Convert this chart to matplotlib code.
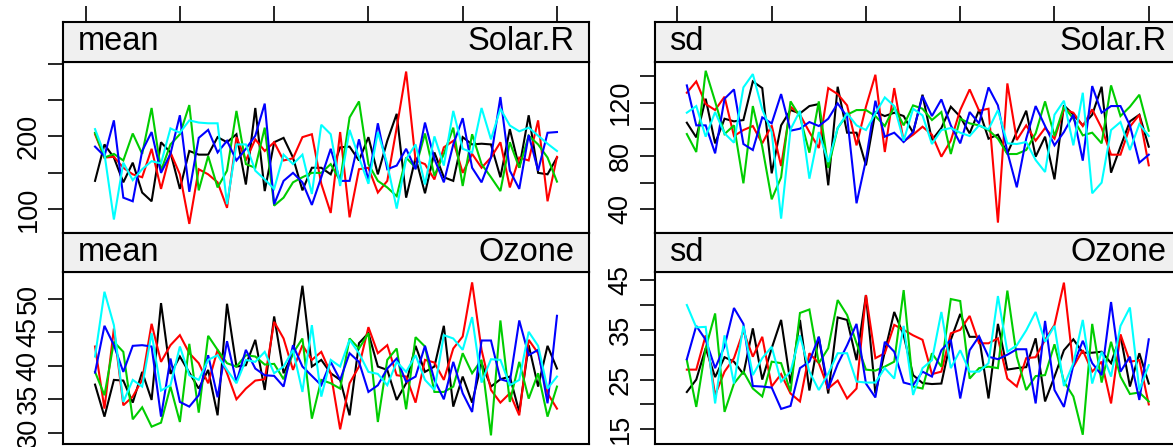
import matplotlib
matplotlib.use('Agg')
import matplotlib.pyplot as plt
import numpy as np

plt.rcParams['font.family'] = ['Liberation Sans', 'DejaVu Sans']

# ---------------- data ----------------
x = np.arange(1, 51)
series_names = ['s1', 's2', 's3', 's4', 's5']
series_colors = ['#000000', '#FF0000', '#00CD00', '#0000FF', '#00FFFF']

mean_solar_black = [139, 189, 171, 137, 164, 123, 111, 192, 178, 128, 180, 175, 175, 199, 192, 203, 134, 239, 125, 192,
                    198, 171, 126, 157, 157, 148, 185, 186, 167, 199, 148, 194, 231, 116, 171, 122, 178, 144, 139, 199,
                    189, 190, 189, 144, 210, 157, 229, 150, 148, 171]
mean_solar_red = [203, 171, 172, 157, 148, 144, 183, 128, 178, 148, 80, 155, 148, 137, 102, 199, 167, 196, 180, 192,
                  167, 170, 199, 203, 135, 95, 206, 89, 155, 157, 123, 139, 212, 289, 167, 162, 141, 185, 194, 150,
                  176, 157, 171, 192, 130, 171, 167, 222, 111, 172]
mean_solar_green = [205, 171, 176, 167, 204, 176, 239, 153, 189, 203, 243, 126, 173, 130, 153, 235, 162, 157, 212, 105,
                    116, 137, 144, 150, 150, 162, 139, 226, 248, 162, 139, 130, 118, 171, 157, 204, 146, 176, 212, 132,
                    203, 162, 144, 125, 192, 157, 201, 189, 171, 138]
mean_solar_blue = [186, 173, 222, 116, 111, 180, 206, 150, 176, 229, 124, 198, 209, 178, 194, 167, 183, 201, 245, 107,
                   139, 150, 137, 106, 144, 183, 139, 139, 196, 139, 218, 155, 160, 183, 155, 219, 169, 137, 189, 225,
                   157, 137, 171, 254, 153, 128, 202, 153, 205, 206]
mean_solar_cyan = [210, 176, 86, 164, 140, 155, 166, 163, 211, 205, 222, 219, 218, 218, 107, 189, 189, 153, 141, 128,
                   175, 162, 175, 121, 216, 203, 132, 209, 171, 135, 206, 162, 101, 169, 189, 134, 200, 160, 235, 183,
                   178, 239, 196, 238, 215, 207, 212, 201, 190, 180]

mean_ozone_black = [37.2, 32.4, 37.9, 37.8, 34.5, 39.1, 34.9, 49.4, 38.8, 41.4, 39.0, 36.6, 39.4, 32.6, 49.3, 39.9, 40.1,
                    43.9, 36.4, 47.4, 38.9, 41.9, 52.0, 39.9, 40.9, 38.9, 37.9, 32.6, 43.4, 44.9, 39.9, 39.4, 34.9, 37.4,
                    43.0, 39.1, 39.9, 46.0, 33.9, 38.4, 34.5, 40.4, 36.9, 38.0, 38.4, 33.1, 43.1, 36.9, 43.0, 39.6]
mean_ozone_red = [42.9, 33.6, 45.6, 34.1, 35.4, 37.9, 46.3, 40.6, 43.1, 44.6, 41.9, 40.4, 37.4, 42.4, 38.9, 35.0, 36.6,
                  37.8, 38.0, 46.6, 44.1, 39.4, 43.1, 40.9, 42.1, 38.9, 30.5, 37.4, 39.9, 45.8, 41.9, 43.1, 38.6, 38.4,
                  34.5, 40.9, 40.5, 37.9, 42.6, 44.4, 52.5, 42.4, 36.4, 34.5, 35.9, 32.6, 43.9, 41.9, 35.9, 33.6]
mean_ozone_green = [39.1, 35.6, 43.6, 42.1, 32.0, 33.8, 30.9, 31.5, 36.9, 31.6, 43.3, 33.0, 44.5, 42.4, 40.4, 39.9, 41.6,
                    41.4, 40.2, 40.3, 38.0, 41.9, 44.1, 32.1, 37.9, 37.4, 36.6, 44.1, 42.6, 44.9, 31.6, 40.9, 42.6, 33.5,
                    44.3, 42.9, 36.1, 36.1, 36.9, 41.9, 38.9, 40.9, 29.6, 46.8, 34.6, 40.6, 35.1, 38.9, 32.4, 36.9]
mean_ozone_blue = [39.0, 46.0, 43.1, 39.1, 43.0, 43.1, 42.9, 32.4, 41.1, 34.6, 33.9, 35.6, 41.6, 35.3, 43.7, 37.6, 42.4,
                   39.6, 38.6, 38.5, 36.9, 43.1, 39.9, 38.5, 37.1, 40.6, 37.9, 41.9, 40.6, 36.1, 37.1, 39.6, 41.1, 37.6,
                   38.4, 43.0, 37.9, 35.0, 40.6, 35.9, 33.1, 43.8, 43.8, 38.0, 37.6, 46.8, 41.6, 42.4, 34.4, 47.5]
mean_ozone_cyan = [41.4, 51.1, 46.1, 34.6, 37.9, 36.9, 44.9, 36.3, 37.1, 42.9, 38.6, 37.9, 40.9, 41.6, 39.4, 37.4, 40.9,
                   40.6, 42.1, 38.9, 39.9, 42.4, 36.1, 46.1, 35.4, 40.9, 39.9, 43.9, 41.9, 39.1, 38.8, 37.1, 40.6, 39.1,
                   41.6, 37.9, 36.4, 44.6, 44.1, 42.4, 47.3, 37.5, 41.0, 40.9, 37.1, 37.9, 45.1, 43.0, 36.6, 38.4]

sd_solar_black = [105, 94, 123, 89.5, 108, 106, 107, 136, 131, 67, 103, 114.5, 112, 117.5, 119, 58, 132, 97.5, 97.5, 73,
                  113, 110, 112.5, 110, 97.5, 126, 92, 101, 117, 109.5, 97, 114.5, 93, 96, 82, 98, 114, 79.5, 94.5, 62.5,
                  118, 111, 103, 111, 132, 67.5, 87, 106, 111, 87]
sd_solar_red = [127.5, 136, 119, 114.5, 124.5, 95, 99.5, 102.5, 89.5, 103, 72.5, 117, 111, 98, 86, 131, 126.5, 118, 88,
                117, 141, 83, 131, 91, 96, 102, 96, 79.5, 91.5, 114.5, 130, 114, 115.5, 30, 134.5, 92, 103, 91.5, 101,
                93, 115, 112.5, 102.5, 115, 101, 81, 81, 102, 111, 73]
sd_solar_green = [96.5, 83, 144, 121, 96.5, 103, 59.5, 117.5, 87, 47.5, 64, 121, 109.5, 82.5, 121, 71, 101, 111, 114.5,
                  114.5, 110, 102.5, 117, 103, 118, 115.5, 107, 113, 81.5, 108, 104.5, 103, 99.5, 93, 81.5, 81.5, 84.5,
                  97, 121, 95, 117, 108, 95.5, 97.5, 89.5, 133, 110, 117, 126, 99]
sd_solar_blue = [133, 103, 103, 82, 123, 130, 89, 84.5, 109, 104.5, 126.5, 99, 100.5, 105.5, 102.5, 108, 119.5, 109.5,
                 44.5, 77, 121.5, 94.5, 97.5, 90.5, 98, 125, 110, 122.5, 103, 89.5, 113, 104.5, 131.5, 118, 83, 56.5, 93,
                 117.5, 102.5, 88, 98, 111, 76.5, 132.5, 112.5, 117.5, 117.5, 103, 75, 81]
sd_solar_cyan = [112.5, 117.5, 94.5, 113, 97, 90, 131.5, 141.5, 115, 98, 33, 100, 114, 63, 98, 75.5, 101, 112, 103, 99.5,
                 112, 124, 117.5, 91.5, 115.5, 110.5, 89, 99.5, 101, 97.5, 95, 103, 100, 114.5, 89.5, 89, 90.5, 77, 68,
                 111, 121.5, 88, 127.5, 52, 60, 99.5, 105.5, 84.5, 104, 95]

sd_ozone_black = [22.5, 25.0, 31.3, 25.5, 29.5, 28.6, 26.1, 35.3, 25.0, 31.3, 37.0, 24.2, 37.0, 22.8, 33.6, 22.2, 37.5,
                  37.0, 28.9, 42.0, 22.2, 30.6, 38.6, 33.9, 25.9, 24.3, 24.1, 24.2, 33.0, 38.2, 33.6, 33.6, 21.2, 36.2,
                  27.0, 27.3, 27.5, 33.3, 20.6, 25.6, 30.9, 33.1, 30.4, 30.4, 30.6, 28.3, 33.9, 23.6, 30.3, 24.2]
sd_ozone_red = [27.0, 27.0, 33.9, 21.9, 26.6, 29.3, 34.8, 29.6, 33.6, 23.6, 26.1, 22.2, 20.6, 30.3, 28.3, 23.2, 24.8,
                21.2, 23.2, 42.0, 29.3, 30.3, 36.0, 35.0, 33.9, 33.0, 26.1, 26.6, 34.3, 35.0, 37.8, 32.3, 32.3, 33.3,
                25.2, 23.6, 29.3, 29.5, 33.0, 36.0, 44.5, 27.6, 30.9, 26.6, 28.6, 20.2, 34.1, 28.6, 28.9, 20.0]
sd_ozone_green = [28.9, 19.5, 31.3, 38.3, 18.5, 24.2, 26.6, 23.2, 21.6, 28.6, 28.3, 22.6, 38.4, 39.1, 28.3, 31.3, 41.0,
                  38.0, 32.3, 27.0, 26.8, 27.6, 28.6, 43.0, 23.6, 23.2, 30.3, 27.6, 41.2, 40.8, 25.2, 27.3, 27.6, 27.3,
                  42.9, 29.6, 22.9, 25.7, 25.9, 32.1, 24.6, 21.6, 13.9, 36.2, 24.4, 32.6, 25.6, 22.1, 22.4, 20.6]
sd_ozone_blue = [29.1, 35.8, 33.0, 27.3, 31.7, 39.4, 36.2, 23.7, 23.6, 23.4, 19.1, 19.7, 27.3, 28.6, 33.6, 23.2, 28.1,
                 31.9, 36.2, 24.2, 21.4, 32.6, 30.6, 24.4, 23.9, 26.6, 25.6, 30.9, 33.0, 21.2, 30.9, 33.7, 29.6, 29.1,
                 30.0, 31.1, 31.1, 20.2, 36.8, 22.9, 19.5, 27.9, 32.8, 28.3, 25.9, 40.6, 26.6, 29.6, 20.9, 33.1]
sd_ozone_cyan = [40.0, 35.5, 35.6, 20.2, 33.9, 24.2, 35.8, 25.9, 29.3, 31.6, 24.6, 26.6, 33.9, 26.6, 22.9, 26.2, 30.3,
                 30.3, 24.6, 24.4, 24.4, 27.3, 25.2, 35.8, 21.9, 27.3, 28.9, 38.6, 27.3, 30.9, 26.6, 26.6, 28.3, 41.8,
                 30.6, 31.9, 34.9, 38.6, 32.6, 35.8, 23.7, 28.3, 37.0, 24.2, 30.6, 25.6, 35.8, 39.5, 22.9, 27.9]

strip_left = ['mean', 'sd', 'mean', 'sd']
strip_right = ['Solar.R', 'Solar.R', 'Ozone', 'Ozone']
x_ticks = [0, 10, 20, 30, 40, 50]

panels = [
    dict(series=[mean_solar_black, mean_solar_red, mean_solar_green, mean_solar_blue, mean_solar_cyan],
         yticks=[100, 150, 200, 250, 300], ylabels=['100', '', '200', '', ''], ylim=(67.5, 302.5)),
    dict(series=[sd_solar_black, sd_solar_red, sd_solar_green, sd_solar_blue, sd_solar_cyan],
         yticks=[40, 60, 80, 100, 120, 140], ylabels=['40', '', '80', '', '120', ''], ylim=(22.2, 150.8)),
    dict(series=[mean_ozone_black, mean_ozone_red, mean_ozone_green, mean_ozone_blue, mean_ozone_cyan],
         yticks=[30, 35, 40, 45, 50], ylabels=['30', '35', '40', '45', '50'], ylim=(28.35, 54.1)),
    dict(series=[sd_ozone_black, sd_ozone_red, sd_ozone_green, sd_ozone_blue, sd_ozone_cyan],
         yticks=[15, 20, 25, 30, 35, 40, 45], ylabels=['15', '', '25', '', '35', '', '45'], ylim=(12.1, 46.7)),
]

# ---------------- layout ----------------
W, H = 1173, 447
fig = plt.figure(figsize=(W / 100, H / 100), dpi=100)


def px_axes(x0, y0, x1, y1):
    return fig.add_axes([x0 / W, 1 - y1 / H, (x1 - x0) / W, (y1 - y0) / H])


cols = [(62.7, 589.3), (654.5, 1181.1)]
rows = [((21.7, 61.7), (61.7, 233.0)), ((233.0, 271.7), (271.7, 443.7))]
xlim = (-2.43, 53.43)
frame_lw = 1.5
line_lw = 1.5

for k, p in enumerate(panels):
    r, c = divmod(k, 2)
    (sx0, sx1) = cols[c]
    (st, sb), (pt, pb) = rows[r]

    ax = px_axes(sx0, pt, sx1, pb)
    for ys, col in zip(p['series'], series_colors):
        ax.plot(x, ys, color=col, lw=line_lw, solid_joinstyle='miter')
    ax.set_xlim(*xlim)
    ax.set_ylim(*p['ylim'])
    ax.set_xticks([])
    ax.set_yticks(p['yticks'])
    ax.set_yticklabels(p['ylabels'])
    ax.tick_params(axis='y', direction='out', length=10.8, width=1.2, pad=4.3,
                   labelsize=19.5, colors='black')
    for lab in ax.get_yticklabels():
        lab.set_rotation(90)
        lab.set_va('center')
        lab.set_ha('right')
    for s in ax.spines.values():
        s.set_linewidth(frame_lw)

    sax = px_axes(sx0, st, sx1, sb)
    sax.set_facecolor('#F0F0F0')
    sax.set_xlim(*xlim)
    sax.set_ylim(0, 1)
    sax.set_yticks([])
    if r == 0:
        sax.xaxis.tick_top()
        sax.set_xticks(x_ticks)
        sax.set_xticklabels([''] * len(x_ticks))
        sax.tick_params(axis='x', direction='out', length=11.5, width=1.2)
    else:
        sax.set_xticks([])
    for s in sax.spines.values():
        s.set_linewidth(frame_lw)
    sax.text(15 / (sx1 - sx0), 0.28, strip_left[k], transform=sax.transAxes,
             ha='left', va='baseline', fontsize=23.5)
    sax.text(1 - 15 / (sx1 - sx0), 0.28, strip_right[k], transform=sax.transAxes,
             ha='right', va='baseline', fontsize=23.5)

fig.savefig('out.png', dpi=100)
